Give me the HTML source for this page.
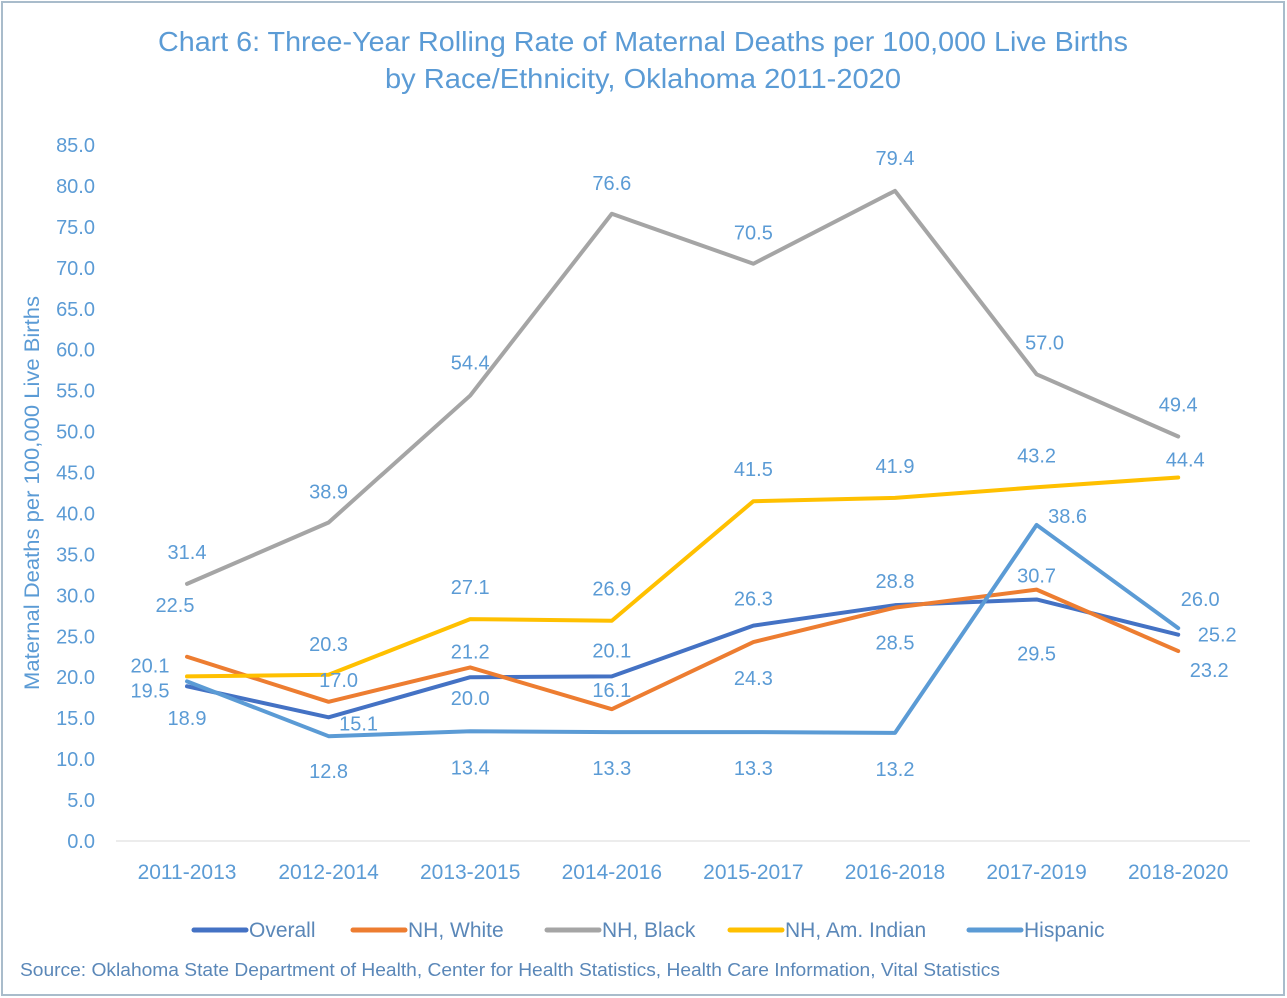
<!DOCTYPE html>
<html><head><meta charset="utf-8"><style>
html,body{margin:0;padding:0;background:#fff}
svg{display:block;font-family:"Liberation Sans",sans-serif}
</style></head><body>
<svg id="chart" width="1287" height="998">
<rect x="2" y="2" width="1282" height="993" fill="#fff" stroke="#a9bccb" stroke-width="2"/>
<text x="643" y="51" text-anchor="middle" font-size="28" fill="#5b9bd5" textLength="970" lengthAdjust="spacingAndGlyphs">Chart 6: Three-Year Rolling Rate of Maternal Deaths per 100,000 Live Births</text>
<text x="643" y="88" text-anchor="middle" font-size="28" fill="#5b9bd5" textLength="516" lengthAdjust="spacingAndGlyphs">by Race/Ethnicity, Oklahoma 2011-2020</text>
<text transform="translate(39,493) rotate(-90)" text-anchor="middle" font-size="21" fill="#5b9bd5" textLength="394" lengthAdjust="spacingAndGlyphs">Maternal Deaths per 100,000 Live Births</text>
<text x="20" y="976" font-size="18.5" fill="#5a87b8" textLength="980" lengthAdjust="spacingAndGlyphs">Source: Oklahoma State Department of Health, Center for Health Statistics, Health Care Information, Vital Statistics</text>
<g id="axes"></g><g id="lines"></g><g id="labels"></g><g id="legend"></g>
</svg>
<script>
const categories=["2011-2013","2012-2014","2013-2015","2014-2016","2015-2017","2016-2018","2017-2019","2018-2020"];
const yTicks=[0,5,10,15,20,25,30,35,40,45,50,55,60,65,70,75,80,85];
const seriesNames=["Overall","NH, White","NH, Black","NH, Am. Indian","Hispanic"];
const overall=[18.9,15.1,20.0,20.1,26.3,28.8,29.5,25.2];
const nhWhite=[22.5,17.0,21.2,16.1,24.3,28.5,30.7,23.2];
const nhBlack=[31.4,38.9,54.4,76.6,70.5,79.4,57.0,49.4];
const nhAmIndian=[20.1,20.3,27.1,26.9,41.5,41.9,43.2,44.4];
const hispanic=[19.5,12.8,13.4,13.3,13.3,13.2,38.6,26.0];

const colors=["#4472c4","#ed7d31","#a5a5a5","#ffc000","#5b9bd5"];
const slugs=["overall","nh-white","nh-black","nh-am-indian","hispanic"];
const allSeries=[overall,nhWhite,nhBlack,nhAmIndian,hispanic];
const lblDx=[[0,30,0,0,0,0,0,39],[-12,10,0,0,0,0,0,31],[0,0,0,0,0,0,8,0],[-37,0,0,0,0,0,0,7],[-37,0,0,0,0,0,31,22]];
const lblDy=[[32,6,21,-26,-27,-24,54,0],[-52,-22,-16,-19,36,35,-14,19],[-32,-31,-33,-31,-31,-33,-32,-32],[-11,-31,-32,-32,-32,-32,-32,-18],[9,35,36,36,36,36,-9,-29]];
const NS="http://www.w3.org/2000/svg";
const x0=187,dx=141.6,yBase=841,yTop=145,yMax=85;
const X=i=>x0+i*dx, Y=v=>yBase-(v/yMax)*(yBase-yTop);
function mk(t,a,p,txt){const e=document.createElementNS(NS,t);for(const k in a)e.setAttribute(k,a[k]);if(txt!==undefined)e.textContent=txt;p.appendChild(e);return e;}
const axes=document.getElementById('axes'),lines=document.getElementById('lines'),labels=document.getElementById('labels'),legend=document.getElementById('legend');
const ax=mk('line',{x1:116,x2:1250,y1:Y(0),y2:Y(0),stroke:'#d9d9d9','stroke-width':1},axes);


yTicks.forEach(v=>{const t=mk('text',{x:95,y:Y(v)+7,'text-anchor':'end','font-size':20,fill:'#5b9bd5'},axes,v.toFixed(1));

});
categories.forEach((c,i)=>{const t=mk('text',{x:X(i),y:879,'text-anchor':'middle','font-size':21,fill:'#5b9bd5'},axes,c);

});
allSeries.forEach((s,k)=>{
 const pl=mk('polyline',{points:s.map((v,i)=>X(i)+','+Y(v)).join(' '),fill:'none',stroke:colors[k],'stroke-width':4,'stroke-linejoin':'round','stroke-linecap':'round'},lines);
 
 
 s.forEach((v,i)=>{const t=mk('text',{x:X(i)+lblDx[k][i],y:Y(v)+lblDy[k][i]+7,'text-anchor':'middle','font-size':20,fill:'#5b9bd5'},labels,v.toFixed(1));
 
 });
});
const legX=[194,353,547,730,969];
seriesNames.forEach((n,k)=>{
 const g=mk('g',{},legend);
 
 
 mk('line',{x1:legX[k],x2:legX[k]+52,y1:930,y2:930,stroke:colors[k],'stroke-width':5,'stroke-linecap':'round'},g);
 mk('text',{x:legX[k]+55,y:937,'font-size':21,fill:'#5a87b8'},g,n);
});
</script>
</body></html>
